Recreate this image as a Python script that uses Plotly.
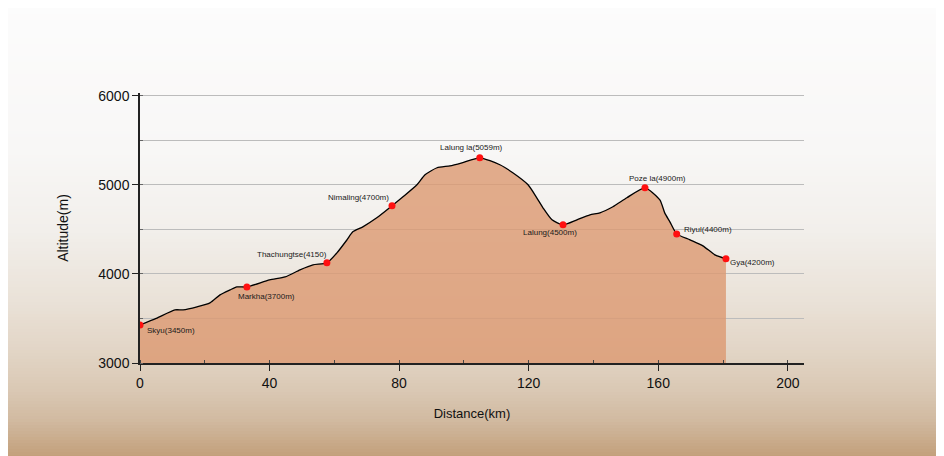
import plotly.graph_objects as go

# trail profile (km, m)
distance_km = [0, 5, 10.8, 13.3, 17.6, 21.6, 24.7, 27.8, 29.9, 33, 40, 44.8, 49.4, 53.4,
               57.7, 60.8, 63.9, 65.7, 68.8, 73.1, 77.8, 81.2, 85.5, 88, 91.7, 95.7,
               99.4, 104.9, 111.1, 115.1, 119.8, 122.5, 124.4, 127.2, 130.6, 134.9,
               138.9, 142, 146, 150.3, 155.9, 160.5, 162, 163.6, 165.7, 169.8, 173.8,
               177.5, 180.9]
altitude_m = [3427, 3500, 3596, 3596, 3630, 3674, 3764, 3820, 3854, 3854, 3933, 3966,
              4045, 4101, 4124, 4236, 4382, 4472, 4528, 4629, 4764, 4865, 5000, 5112,
              5191, 5213, 5247, 5303, 5225, 5135, 5000, 4854, 4742, 4607, 4551, 4607,
              4663, 4685, 4753, 4854, 4966, 4831, 4685, 4584, 4449, 4382, 4315, 4213,
              4169]

# camps / passes
stop_names = ["Skyu(3450m)", "Markha(3700m)", "Thachungtse(4150)", "Nimaling(4700m)",
              "Lalung la(5059m)", "Lalung(4500m)", "Poze la(4900m)", "Riyul(4400m)",
              "Gya(4200m)"]
stop_km = [0, 33, 57.7, 77.8, 104.9, 130.6, 155.9, 165.7, 180.9]
stop_alt = [3427, 3854, 4124, 4764, 5303, 4551, 4966, 4449, 4169]

x_ticks = [0, 40, 80, 120, 160, 200]
y_ticks = [3000, 4000, 5000, 6000]

# page body has an 8px margin, so the figure is drawn 8px in from the top-left
W, H = 936, 448
M = dict(l=132, r=140, t=85, b=93)
PAGE_OFF = 8

fig = go.Figure()

# semi-transparent fill so the grid shows faintly through it
fig.add_trace(go.Scatter(
    x=distance_km, y=altitude_m, mode="lines",
    line=dict(color="black", width=1.3, shape="spline", smoothing=0.6),
    fill="tozeroy", fillcolor="rgba(220,153,113,0.8)",
    hoverinfo="skip", showlegend=False,
))
fig.add_trace(go.Scatter(
    x=stop_km, y=stop_alt, mode="markers",
    marker=dict(color="#ff1010", size=7),
    text=stop_names, hoverinfo="text", showlegend=False,
))

# label offsets (px) around each stop
offsets = [(31, -6), (20, -10), (-35, 8), (-34, 8), (-8, 10), (-13, -8), (13, 9), (31, 4), (27, -4)]
for name, x, y, (dx, dy) in zip(stop_names, stop_km, stop_alt, offsets):
    fig.add_annotation(x=x, y=y, text=name, showarrow=False, xshift=dx, yshift=dy,
                       font=dict(size=8, color="#1a1a1a", family="Liberation Sans, Arial, sans-serif"))

# sandy photo-like backdrop: stacked bands from white to tan (y in window pixels)
stops = [(0, (252, 252, 252)), (150, (248, 247, 246)), (230, (242, 239, 235)),
         (300, (234, 226, 216)), (350, (226, 213, 198)), (390, (218, 200, 180)),
         (420, (209, 186, 161)), (456, (195, 160, 123))]


def colour_at(py):
    for (y0, c0), (y1, c1) in zip(stops, stops[1:]):
        if py <= y1:
            t = (py - y0) / (y1 - y0)
            return "rgb(%d,%d,%d)" % tuple(round(a + (b - a) * t) for a, b in zip(c0, c1))
    return "rgb(%d,%d,%d)" % stops[-1][1]


ph = H - M["t"] - M["b"]
pw = W - M["l"] - M["r"]
step = 3
for py in range(0, H, step):
    fig.add_shape(type="rect", xref="paper", yref="paper", layer="below",
                  x0=-M["l"] / pw, x1=1 + M["r"] / pw,
                  y0=(H - M["b"] - py - step) / ph, y1=(H - M["b"] - py) / ph,
                  fillcolor=colour_at(py + PAGE_OFF + step / 2), line_width=0)

tick_font = dict(family="Liberation Sans Narrow, Arial Narrow, Liberation Sans, sans-serif",
                 size=14, color="#111")
grid = "#bcbcbc"

fig.update_layout(
    width=W, height=H, margin=M,
    paper_bgcolor="white", plot_bgcolor="rgba(0,0,0,0)",
    xaxis=dict(
        range=[0, 205], tickvals=x_ticks, showgrid=False, zeroline=False,
        showline=True, linecolor="#222", linewidth=1.5, layer="above traces",
        ticks="outside", ticklen=6, tickcolor="#222", tickfont=tick_font,
        minor=dict(dtick=20, tick0=0, ticks="inside", ticklen=3, tickcolor="#444"),
        title=dict(text="Distance(km)", font=dict(size=13, color="#111",
                   family="Liberation Sans Narrow, Arial Narrow, Liberation Sans, sans-serif"),
                   standoff=19),
    ),
    yaxis=dict(
        range=[3000, 6030], tickvals=y_ticks, zeroline=False, layer="above traces",
        showgrid=True, gridcolor=grid, gridwidth=1,
        minor=dict(dtick=500, tick0=3000, showgrid=True, gridcolor=grid,
                   ticks="inside", ticklen=3, tickcolor="#666"),
        showline=True, linecolor="#222", linewidth=1.5,
        ticks="outside", ticklen=6, tickcolor="#222", tickfont=tick_font,
        title=dict(text="Altitude(m)", font=dict(size=14, color="#111",
                   family="Liberation Sans, Arial, sans-serif"), standoff=26),
    ),
)

fig.write_html("out.html")
